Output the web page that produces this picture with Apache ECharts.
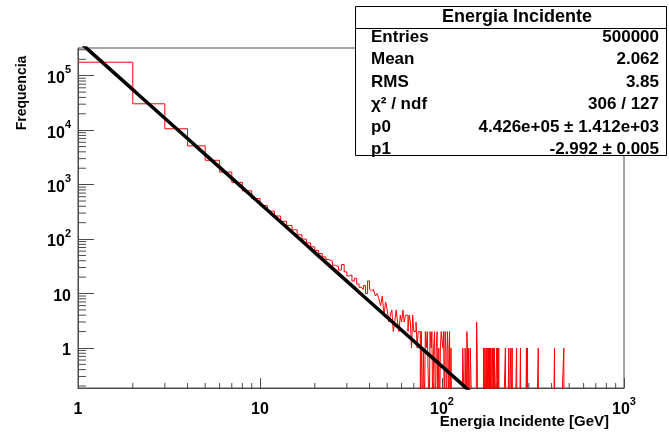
<!DOCTYPE html>
<html>
<head>
<meta charset="utf-8">
<script src="https://cdn.jsdelivr.net/npm/echarts@6/dist/echarts.min.js"></script>
<style>
  html, body { margin: 0; padding: 0; background: #ffffff; }
  #chart { width: 669px; height: 432px; }
</style>
</head>
<body>
<div id="chart"></div>
<script>
// Energy histogram, 1 GeV wide bins: bin n covers [n, n+1).
// Contents of bins 1..60.
const denseCounts = [
  177000, 30500, 10600, 5150, 2800, 1700, 1100, 770, 555, 410,
  325, 265, 212, 178, 148, 120, 100, 85, 72, 62,
  54, 47, 42, 39, 33, 31, 27, 34, 25, 21,
  22, 17, 19, 15, 13, 12, 14, 10, 17, 12,
  11, 12, 9, 10, 8, 6, 9, 4, 7, 5,
  3, 4, 5, 2, 3, 5, 3, 2, 4, 3
];
// Sparse tail beyond bin 60: [bin lower edge, content]; bins not listed are empty.
const tailBins = [
  [61, 5], [62, 3], [63, 4], [64, 4], [65, 2], [66, 4], [67, 3], [68, 1], [69, 4], [70, 2],
  [71, 2], [72, 3], [73, 1], [74, 2], [75, 2], [77, 2], [79, 1], [81, 2], [82, 1], [83, 2],
  [84, 2], [86, 2], [87, 1], [88, 2], [90, 1], [91, 2], [93, 1], [94, 2], [96, 1], [98, 1],
  [99, 2], [100, 2], [101, 1], [102, 2], [104, 2], [105, 1], [107, 2], [108, 1], [110, 2], [112, 1],
  [130, 1], [131, 1], [132, 1], [134, 1], [135, 1], [137, 2], [138, 1], [140, 1], [141, 1], [143, 1],
  [144, 1], [145, 1], [155, 3], [156, 1], [169, 1], [170, 1], [172, 1], [173, 1], [175, 1], [177, 1],
  [178, 1], [180, 1], [182, 1], [184, 1], [186, 1], [190, 1], [192, 1], [194, 1], [200, 1], [202, 1],
  [205, 1], [223, 1], [233, 1], [239, 1], [243, 1], [257, 1], [270, 1], [291, 1], [295, 1], [338, 1],
  [415, 1], [467, 1]
];
const lastBin = 999;

// Power-law fit result: f(x) = p0 * x^p1
const fitP0 = 4.426e5;
const fitP1 = -2.992;

// Axis ranges
const xMin = 1, xMax = 1000;
const yMin = 0.184, yMax = 323000;

// Titles
const xTitle = 'Energia Incidente [GeV]';
const yTitle = 'Frequencia';

// Statistics box
const statsTitle = 'Energia Incidente';
const statsNames = ['Entries', 'Mean', 'RMS', 'χ² / ndf', 'p0', 'p1'];
const statsValues = ['500000', '2.062', '3.85', '306 / 127', '4.426e+05 ± 1.412e+03', '-2.992 ± 0.005'];

const FONT = '"Liberation Sans", Arial, Helvetica, sans-serif';
const AXIS_COLOR = '#4a4a4a';

// ---- build histogram outline (zero bins drop below the visible range) ----
const contents = new Array(lastBin + 1).fill(0);
denseCounts.forEach((c, i) => { contents[i + 1] = c; });
tailBins.forEach(([b, c]) => { contents[b] = c; });
const floorValue = 0.05;
const outline = [];
for (let b = 1; b <= lastBin; b++) {
  const v = contents[b] > 0 ? contents[b] : floorValue;
  outline.push([b, v], [b + 1, v]);
}

// ---- fit curve sampled on a log grid ----
const fitCurve = [];
for (let i = 0; i <= 300; i++) {
  const x = Math.pow(10, 3 * i / 300);
  fitCurve.push([x, fitP0 * Math.pow(x, fitP1)]);
}

// ---- minor tick positions (2..9 of every decade) ----
const xMinor = [], yMinor = [];
for (let d = 0; d < 3; d++) for (let m = 2; m <= 9; m++) xMinor.push([m * Math.pow(10, d), yMin]);
for (let d = -1; d <= 5; d++) for (let m = 2; m <= 9; m++) {
  const v = m * Math.pow(10, d);
  if (v > yMin && v < yMax) yMinor.push([xMin, v]);
}

function powLabel(v) {
  const e = Math.round(Math.log10(v));
  if (e === 0) return '{b|1}';
  if (e === 1) return '{b|10}';
  return '{b|10}{s|' + e + '}';
}
const labelRich = {
  b: { fontFamily: FONT, fontWeight: 'bold', fontSize: 16, color: '#000', verticalAlign: 'bottom', lineHeight: 22 },
  s: { fontFamily: FONT, fontWeight: 'bold', fontSize: 11, color: '#000', verticalAlign: 'top', lineHeight: 22 }
};

const chart = echarts.init(document.getElementById('chart'), null, { renderer: 'canvas' });

const statsGraphics = [];
const boxL = 355, boxR = 666, boxT = 6, boxB = 155, titleSep = 28;
statsGraphics.push({
  type: 'rect', z: 100,
  shape: { x: boxL + 0.5, y: boxT + 0.5, width: boxR - boxL, height: boxB - boxT },
  style: { fill: '#ffffff', stroke: '#000000', lineWidth: 1 }
});
statsGraphics.push({
  type: 'line', z: 101,
  shape: { x1: boxL, y1: titleSep + 0.5, x2: boxR, y2: titleSep + 0.5 },
  style: { stroke: '#000000', lineWidth: 1 }
});
statsGraphics.push({
  type: 'text', z: 102, x: 517, y: 17,
  style: { text: statsTitle, font: 'bold 18px ' + FONT, fill: '#000', textAlign: 'center', textVerticalAlign: 'middle' }
});
statsNames.forEach((name, i) => {
  const y = 37 + i * 22.5;
  statsGraphics.push({
    type: 'text', z: 102, x: 371, y: y,
    style: { text: name, font: 'bold 17px ' + FONT, fill: '#000', textAlign: 'left', textVerticalAlign: 'middle' }
  });
  statsGraphics.push({
    type: 'text', z: 102, x: 659, y: y,
    style: { text: statsValues[i], font: 'bold 17px ' + FONT, fill: '#000', textAlign: 'right', textVerticalAlign: 'middle' }
  });
});

chart.setOption({
  animation: false,
  backgroundColor: '#ffffff',
  grid: {
    left: 78, top: 48, width: 546, height: 340,
    show: true, borderColor: AXIS_COLOR, borderWidth: 1,
    containLabel: false, outerBoundsMode: 'none'
  },
  xAxis: {
    type: 'log', logBase: 10, min: xMin, max: xMax,
    axisLine: { show: true, lineStyle: { color: AXIS_COLOR, width: 1 } },
    axisTick: { show: true, inside: true, length: 10, lineStyle: { color: AXIS_COLOR, width: 1 } },
    minorTick: { show: false },
    splitLine: { show: false },
    axisLabel: { margin: 8, formatter: powLabel, rich: labelRich, showMinLabel: true, showMaxLabel: true }
  },
  yAxis: {
    type: 'log', logBase: 10, min: yMin, max: yMax,
    axisLine: { show: true, lineStyle: { color: AXIS_COLOR, width: 1 } },
    axisTick: { show: true, inside: true, length: 16, lineStyle: { color: AXIS_COLOR, width: 1 } },
    minorTick: { show: false },
    splitLine: { show: false },
    axisLabel: { margin: 7, formatter: powLabel, rich: labelRich, showMinLabel: false, showMaxLabel: false }
  },
  graphic: [
    {
      type: 'text', x: 22, y: 93, rotation: Math.PI / 2,
      style: { text: yTitle, font: 'bold 14px ' + FONT, fill: '#000', textAlign: 'center', textVerticalAlign: 'middle' }
    },
    {
      type: 'text', x: 609, y: 422,
      style: { text: xTitle, font: 'bold 15px ' + FONT, fill: '#000', textAlign: 'right', textVerticalAlign: 'middle' }
    }
  ].concat(statsGraphics),
  series: [
    {
      type: 'custom', name: 'xMinorTicks', data: xMinor, silent: true, z: 3,
      renderItem: (params, api) => {
        const p = api.coord([api.value(0), api.value(1)]);
        return { type: 'line', shape: { x1: p[0], y1: p[1], x2: p[0], y2: p[1] - 5 }, style: { stroke: AXIS_COLOR, lineWidth: 1 } };
      }
    },
    {
      type: 'custom', name: 'yMinorTicks', data: yMinor, silent: true, z: 3,
      renderItem: (params, api) => {
        const p = api.coord([api.value(0), api.value(1)]);
        return { type: 'line', shape: { x1: p[0], y1: p[1], x2: p[0] + 8, y2: p[1] }, style: { stroke: AXIS_COLOR, lineWidth: 1 } };
      }
    },
    {
      type: 'line', name: 'histogram', data: outline, showSymbol: false, symbol: 'none', clip: true, z: 4,
      lineStyle: { color: '#ff0000', width: 1 }
    },
    {
      type: 'line', name: 'fit', data: fitCurve, showSymbol: false, symbol: 'none', clip: true, z: 5,
      lineStyle: { color: '#000000', width: 3.5 }
    }
  ]
});
</script>
</body>
</html>
